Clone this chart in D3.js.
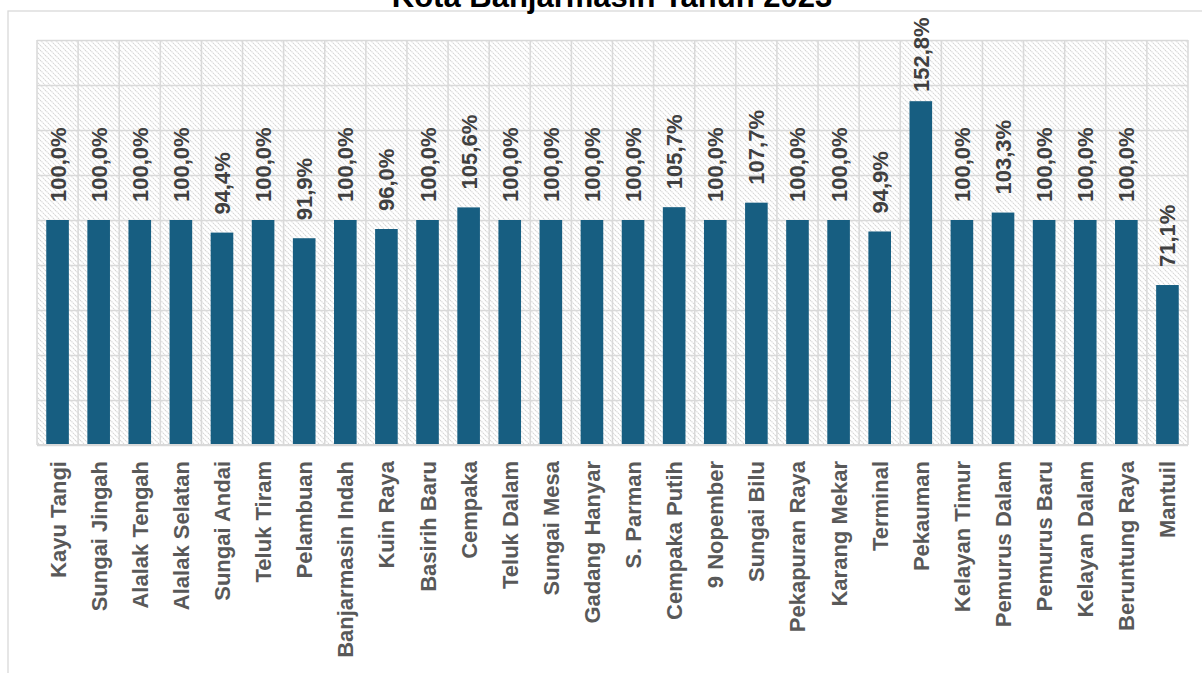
<!DOCTYPE html>
<html><head><meta charset="utf-8">
<script src="https://cdn.jsdelivr.net/npm/d3@7"></script>
<style>html,body{margin:0;padding:0;background:#fff;overflow:hidden}</style>
</head><body>
<svg id="chart" width="1202" height="673"></svg>
<script>
const categories = ["Kayu Tangi","Sungai Jingah","Alalak Tengah","Alalak Selatan","Sungai Andai","Teluk Tiram","Pelambuan","Banjarmasin Indah","Kuin Raya","Basirih Baru","Cempaka","Teluk Dalam","Sungai Mesa","Gadang Hanyar","S. Parman","Cempaka Putih","9 Nopember","Sungai Bilu","Pekapuran Raya","Karang Mekar","Terminal","Pekauman","Kelayan Timur","Pemurus Dalam","Pemurus Baru","Kelayan Dalam","Beruntung Raya","Mantuil"];
const values = [100.0,100.0,100.0,100.0,94.4,100.0,91.9,100.0,96.0,100.0,105.6,100.0,100.0,100.0,100.0,105.7,100.0,107.7,100.0,100.0,94.9,152.8,100.0,103.3,100.0,100.0,100.0,71.1];
const yTicks = [0,20,40,60,80,100,120,140,160,180];
const title = "Kota Banjarmasin Tahun 2023";

const svg = d3.select("#chart");
const W = 1202, H = 673;
const plot = {left: 37, right: 1188, top: 40, bottom: 445};
const font = "'Liberation Sans', Arial, sans-serif";

const defs = svg.append("defs");
const pat = defs.append("pattern").attr("id","hatch").attr("patternUnits","userSpaceOnUse")
  .attr("width",5).attr("height",5);
pat.append("rect").attr("width",5).attr("height",5).attr("fill","#fff");
pat.append("path").attr("d","M0,0L5,5M-1,4L1,6M4,-1L6,1")
  .attr("stroke","#d6d6d6").attr("stroke-width",1.1).attr("stroke-dasharray","1.4,0.7");

// outer chart border
svg.append("rect").attr("x",8).attr("y",11).attr("width",W+20).attr("height",H+20)
  .attr("fill","none").attr("stroke","#d9d9d9").attr("stroke-width",1.3);

// title (partially clipped at top)
svg.append("text").attr("x",612).attr("y",7).attr("text-anchor","middle")
  .attr("font-family",font).attr("font-weight","bold").attr("font-size",31)
  .attr("fill","#000").text(title);

const x = d3.scaleBand().domain(categories).range([plot.left, plot.right]).paddingInner(0.45).paddingOuter(0.225);
const y = d3.scaleLinear().domain([0,180]).range([plot.bottom, plot.top]);
const step = x.step();

// plot background
svg.append("rect").attr("x",plot.left).attr("y",plot.top)
  .attr("width",plot.right-plot.left).attr("height",plot.bottom-plot.top)
  .attr("fill","url(#hatch)");

// horizontal gridlines via axis
const gy = svg.append("g").attr("transform",`translate(${plot.left},0)`)
  .call(d3.axisLeft(y).tickValues(yTicks).tickSize(-(plot.right-plot.left)).tickFormat(""));
gy.select(".domain").remove();
gy.selectAll(".tick line").attr("stroke","#d9d9d9").attr("stroke-width",1.5);

// vertical gridlines at category boundaries
const bounds = d3.range(categories.length+1).map(i => plot.left + i*step);
svg.append("g").selectAll("line").data(bounds).join("line")
  .attr("x1",d=>d).attr("x2",d=>d).attr("y1",plot.top).attr("y2",plot.bottom)
  .attr("stroke","#d9d9d9").attr("stroke-width",1.5);

// bars
svg.append("g").selectAll("rect").data(values).join("rect")
  .attr("x",(d,i)=>x(categories[i])).attr("width",x.bandwidth())
  .attr("y",d=>y(d)).attr("height",d=>y(0)-y(d))
  .attr("fill","#175e81");

// baseline
svg.append("line").attr("x1",plot.left).attr("x2",plot.right).attr("y1",plot.bottom).attr("y2",plot.bottom)
  .attr("stroke","#d9d9d9").attr("stroke-width",2);

// value labels
const fmt = v => v.toFixed(1).replace(".",",") + "%";
const fs = 22;
svg.append("g").selectAll("text").data(values).join("text")
  .attr("transform",(d,i)=>{
    const cx = x(categories[i]) + x.bandwidth()/2 + 8;
    const len = fmt(d).length; // approximate clamp handled below
    let yy = y(d) - 18;
    const estW = 75 + (d>=100?0:-12);
    if (yy - estW < 17) yy = 17 + estW;
    return `translate(${cx},${yy}) rotate(-90)`;
  })
  .attr("text-anchor","start").attr("font-family",font).attr("font-weight","bold")
  .attr("font-size",fs).attr("fill","#404040").text(d=>fmt(d));

// category labels
svg.append("g").selectAll("text").data(categories).join("text")
  .attr("transform",d=>`translate(${x(d)+x.bandwidth()/2+8},461) rotate(-90)`)
  .attr("text-anchor","end").attr("font-family",font).attr("font-weight","bold")
  .attr("font-size",22).attr("fill","#595959").text(d=>d);
</script>
</body></html>
